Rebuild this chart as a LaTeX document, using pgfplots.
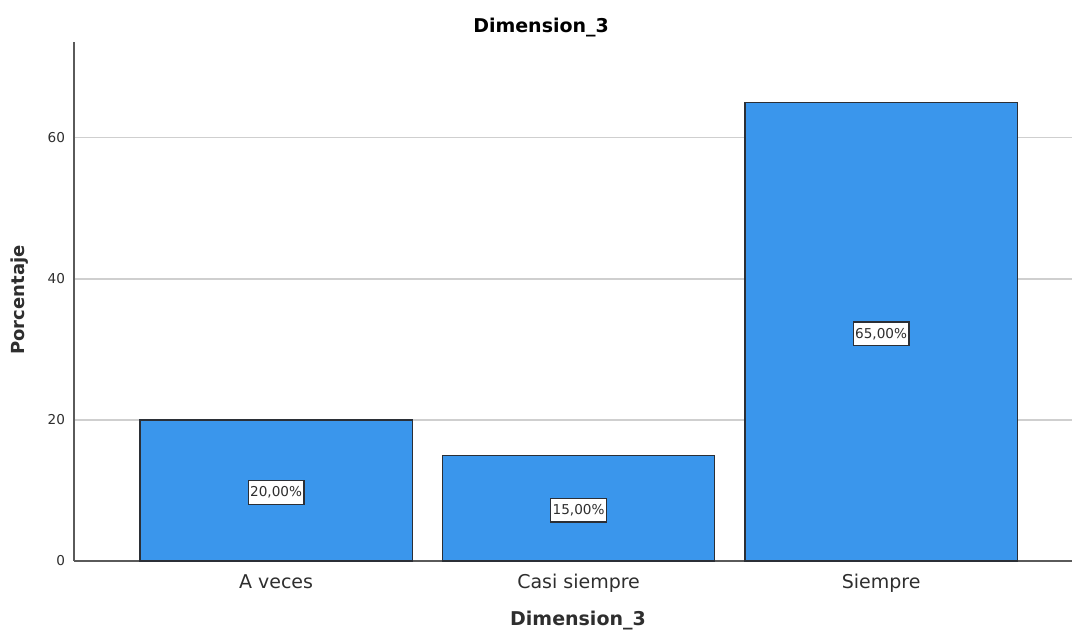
\documentclass[border=0pt]{standalone}
\usepackage{fontspec}
\setmainfont{DejaVu Sans}
\usepackage{pgfplots}
\usepackage{pgfplotstable}
\pgfplotsset{compat=1.18}

\definecolor{barblue}{HTML}{3A96EC}
\definecolor{baredge}{HTML}{2B2F36}
\definecolor{axisgray}{HTML}{5A5A5A}
\definecolor{gridgray}{HTML}{CFCFCF}
\definecolor{labelgray}{HTML}{2E2E2E}

% Porcentaje por categoria de Dimension_3
\pgfplotstableread{
x v
0 20
1 15
2 65
}\dimdata

\begin{document}
\begin{tikzpicture}
\useasboundingbox (-37pt,-35.5pt) rectangle (499pt,280.5pt);
\begin{axis}[
  scale only axis,
  width=499pt, height=259.5pt,
  xmin=-0.668, xmax=2.631,
  ymin=0, ymax=73.6,
  axis x line*=bottom, axis y line*=left,
  axis line style={color=axisgray, line width=0.8pt},
  major tick length=0pt,
  xtick={0,1,2},
  xticklabels={A veces, Casi siempre, Siempre},
  ytick={0,20,40,60},
  ymajorgrids,
  major grid style={color=gridgray, line width=0.6pt},
  /pgf/number format/assume math mode=true,
  xticklabel style={font=\fontsize{9.5}{11}\selectfont, text=labelgray, anchor=base, yshift=-14pt},
  yticklabel style={font=\fontsize{6.8}{8}\selectfont, text=labelgray, xshift=-1pt},
  title={Dimension\_3},
  title style={font=\bfseries\fontsize{9.5}{11}\selectfont, at={(axis description cs:0.468,1)}, anchor=center, yshift=1pt},
  xlabel={Dimension\_3},
  xlabel style={font=\bfseries\fontsize{9.5}{11}\selectfont, text=labelgray, at={([yshift=-30pt]axis description cs:0.505,0)}, anchor=center},
  ylabel={Porcentaje},
  ylabel style={font=\bfseries\fontsize{9}{11}\selectfont, text=labelgray, at={([xshift=-27pt]axis description cs:0,0.503)}, anchor=center, rotate=0},
  clip=false,
]
\addplot[ybar, bar width=0.9, fill=barblue, draw=baredge, line width=0.6pt]
  table[x=x, y=v] {\dimdata};
\addplot[draw=none, mark=none,
  point meta=explicit,
  nodes near coords={\pgfmathprintnumber[fixed, fixed zerofill, precision=2, use comma]{\pgfplotspointmeta}\%},
  every node near coord/.append style={anchor=center, fill=white, draw=baredge, line width=0.6pt,
    inner xsep=1pt, inner ysep=3pt, yshift=-1pt, text=labelgray, font=\fontsize{6.8}{8}\selectfont}]
  table[x=x, y expr=\thisrow{v}/2, meta=v] {\dimdata};
\end{axis}
\end{tikzpicture}
\end{document}
